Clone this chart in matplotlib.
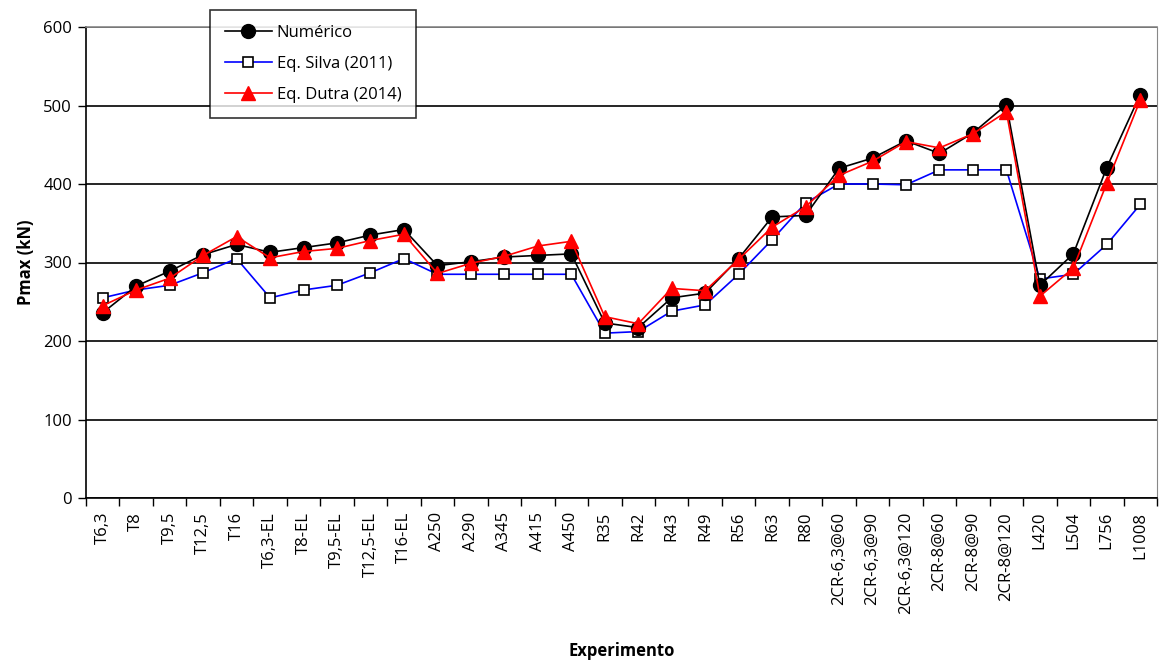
import numpy as np
import matplotlib
matplotlib.use("Agg")
import matplotlib.pyplot as plt
from matplotlib.ticker import FixedLocator

OUT = "out.png"

experimentos = ["T6,3", "T8", "T9,5", "T12,5", "T16",
                "T6,3-EL", "T8-EL", "T9,5-EL", "T12,5-EL", "T16-EL",
                "A250", "A290", "A345", "A415", "A450",
                "R35", "R42", "R43", "R49", "R56", "R63", "R80",
                "2CR-6,3@60", "2CR-6,3@90", "2CR-6,3@120",
                "2CR-8@60", "2CR-8@90", "2CR-8@120",
                "L420", "L504", "L756", "L1008"]

numerico = [236, 270, 289, 310, 323,
            313, 319, 325, 335, 342,
            296, 301, 307, 309, 311,
            223, 217, 255, 261, 305, 358, 360,
            420, 433, 455,
            439, 465, 501,
            271, 311, 421, 514]

silva = [255, 265, 271, 287, 305,
         255, 265, 271, 287, 305,
         285, 285, 285, 285, 285,
         210, 212, 238, 246, 285, 329, 376,
         400, 400, 399,
         418, 418, 418,
         279, 285, 323, 374]

dutra = [245, 265, 280, 309, 333,
         306, 314, 318, 328, 336,
         286, 299, 308, 321, 327,
         231, 222, 267, 264, 304, 345, 371,
         411, 429, 454,
         446, 464, 492,
         257, 293, 401, 507]

plt.rcParams["font.family"] = ["Open Sans", "DejaVu Sans"]
FS = 12

fig = plt.figure(figsize=(11.61, 6.62), dpi=100)
ax = fig.add_axes([86 / 1161, 1 - 498 / 662, (1157 - 86) / 1161, (498 - 27) / 662])

x = np.arange(len(experimentos))
ax.plot(x, numerico, color="black", lw=1.2, marker="o", ms=10,
        mfc="black", mec="black", label="Numérico", zorder=4)
ax.plot(x, silva, color="#0000ff", lw=1.2, marker="s", ms=7,
        mfc="white", mec="black", mew=1.2, label="Eq. Silva (2011)", zorder=3)
ax.plot(x, dutra, color="#ff0000", lw=1.2, marker="^", ms=10,
        mfc="#ff0000", mec="#ff0000", label="Eq. Dutra (2014)", zorder=5)

ax.set_xlim(-0.5, len(experimentos) - 0.5)
ax.set_ylim(0, 600)
ax.set_yticks(range(0, 601, 100))
ax.yaxis.grid(True, color="black", lw=1.2)
ax.set_axisbelow(True)

ax.set_xticks(x)
ax.set_xticklabels(experimentos, rotation=90, fontsize=FS)
ax.xaxis.set_minor_locator(FixedLocator(np.arange(-0.5, len(experimentos), 1.0)))
ax.tick_params(axis="x", which="major", length=0, pad=10)
ax.tick_params(axis="x", which="minor", length=6, width=1.0, direction="out")
ax.tick_params(axis="y", length=6, width=1.0, labelsize=FS, pad=4)

ax.spines["top"].set_color("#888888")
ax.spines["right"].set_color("#888888")
ax.spines["top"].set_linewidth(1.2)
ax.spines["left"].set_linewidth(1.2)
ax.spines["bottom"].set_linewidth(1.2)

ax.set_ylabel("Pmax (kN)", fontsize=FS, weight="bold", labelpad=6)
ax.set_xlabel("Experimento", fontsize=FS, weight="bold")
ax.xaxis.set_label_coords(0.5, -0.305)

leg = ax.legend(loc="upper left", bbox_to_anchor=((210 - 86) / 1071, (498 - 10) / 471),
                fontsize=FS, frameon=True, fancybox=False, edgecolor="black",
                borderpad=0.9, labelspacing=0.9, handlelength=2.8,
                handletextpad=0.3, borderaxespad=0)
leg.get_frame().set_linewidth(1.2)
leg.set_zorder(10)

fig.savefig(OUT, dpi=100)
